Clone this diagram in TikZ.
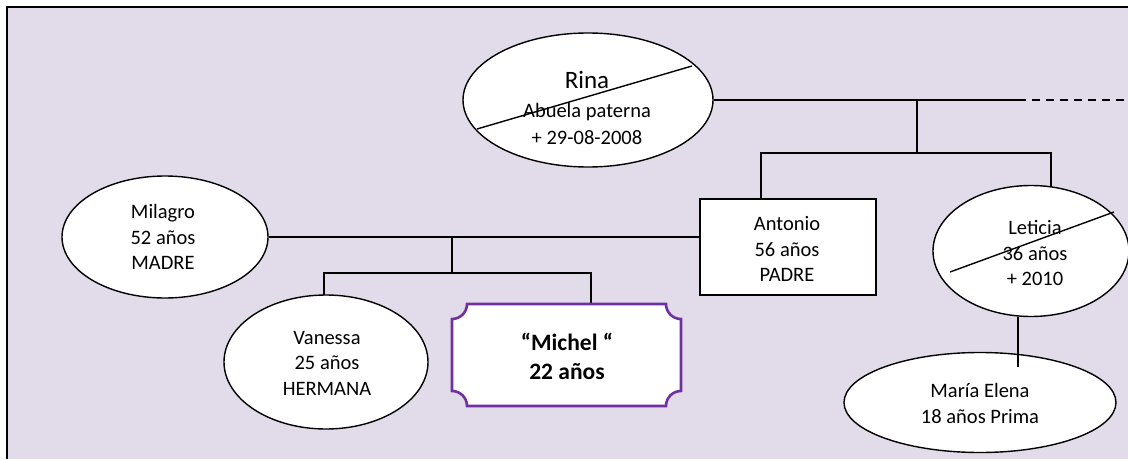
\documentclass[tikz,border=0pt]{standalone}
\usepackage{fontspec}
\setmainfont{Carlito}
\usetikzlibrary{shapes.geometric}
\definecolor{lav}{RGB}{226,220,234}
\definecolor{plum}{RGB}{112,48,160}
\pgfdeclarelayer{bgl}
\pgfdeclarelayer{lines}
\pgfdeclarelayer{plaque}
\pgfsetlayers{bgl,lines,plaque,main}
\tikzset{
  person/.style={ellipse, draw=black, fill=white, line width=1.4pt, inner sep=0pt},
  rectperson/.style={rectangle, draw=black, fill=white, line width=1.4pt, inner sep=0pt},
  txt/.style={align=center, inner sep=0pt, font=\fontsize{20.5}{25.5}\selectfont},
  boldtxt/.style={align=center, inner sep=0pt, font=\fontsize{23.5}{29}\selectfont\bfseries},
  conn/.style={line width=1.4pt, draw=black},
  strike/.style={line width=1.4pt, draw=black},
}
\begin{document}
\begin{tikzpicture}[x=1pt,y=1pt]
\useasboundingbox (0,0) rectangle (1128,459);
\begin{pgfonlayer}{bgl}
  \fill[white] (0,0) rectangle (1128,459);
  \fill[lav] (7,0) rectangle (1128,452);
  \draw[line width=1.5pt] (7,0) -- (7,452) -- (1128,452);
\end{pgfonlayer}

% persons
\node[person, minimum width=250, minimum height=134] (rina) at (588,359) {};
\node[inner sep=0pt, font=\fontsize{25}{30}\selectfont] (rinaName) at (587,379) {Rina};
\node[txt, font=\fontsize{20.5}{27}\selectfont] (rinaInfo) at (587,335.5) {Abuela paterna\\+ 29-08-2008};

\node[person, minimum width=206, minimum height=122] (milagro) at (165,222) {};
\node[txt] (milagroT) at (163,222) {Milagro\\52 años\\MADRE};

\node[rectperson, minimum width=176, minimum height=96] (antonio) at (788,212) {};
\node[txt] (antonioT) at (787,210) {Antonio\\56 años\\PADRE};

\node[person, minimum width=196, minimum height=131] (leticia) at (1031,208) {};
\node[txt] (leticiaT) at (1035,206) {Leticia\\36 años\\+ 2010};

\node[person, minimum width=272, minimum height=100] (maria) at (980,56.5) {};
\node[txt] (mariaT) at (980,55.5) {María Elena\\18 años Prima};

\node[person, minimum width=204, minimum height=134] (vanessa) at (326,97) {};
\node[txt] (vanessaT) at (327,96) {Vanessa\\25 años\\HERMANA};

\node[minimum width=229, minimum height=102, inner sep=0pt] (michel) at (566.5,104) {};
\node[boldtxt] (michelT) at (567,102.5) {“Michel “\\22 años};

\begin{pgfonlayer}{plaque}
  \draw[line width=2.6pt, draw=plum, fill=white]
    (452,68) -- (452,140) arc[start angle=270, end angle=360, radius=15]
    -- (666,155) arc[start angle=180, end angle=270, radius=15]
    -- (681,68) arc[start angle=90, end angle=180, radius=15]
    -- (467,53) arc[start angle=0, end angle=90, radius=15] -- cycle;
\end{pgfonlayer}

% connector coordinates
\coordinate (solidEnd) at (1018,359);
\coordinate (dashEnd) at (1128,359);
\coordinate (j1) at (917,359);
\coordinate (j1d) at (917,306);
\coordinate (ja) at (761,306);
\coordinate (jb) at (1051,306);
\coordinate (jm) at (452,222);
\coordinate (jm2) at (452,186);
\coordinate (jl) at (324,186);
\coordinate (jr) at (591,186);
\coordinate (meTop) at (1018,92);

\begin{pgfonlayer}{lines}
  \draw[conn] (rina.east) -- (solidEnd);
  \draw[conn, dash pattern=on 8pt off 6pt] (solidEnd) -- (dashEnd);
  \draw[conn] (j1) -- (j1d);
  \draw[conn] (antonio.north -| ja) -- (ja) -- (jb) -- (leticia.center -| jb);
  \draw[conn] (milagro) -- (milagro -| antonio.west);
  \draw[conn] (jm) -- (jm2);
  \draw[conn] (vanessa.center -| jl) -- (jl) -- (jr) -- (michel.north -| jr);
\end{pgfonlayer}

\draw[conn] (leticia.south -| meTop) -- (meTop);

% strike-through lines for deceased
\draw[strike] (477,330) -- (692,393);
\draw[strike] (950,187) -- (1114,247);
\end{tikzpicture}
\end{document}
